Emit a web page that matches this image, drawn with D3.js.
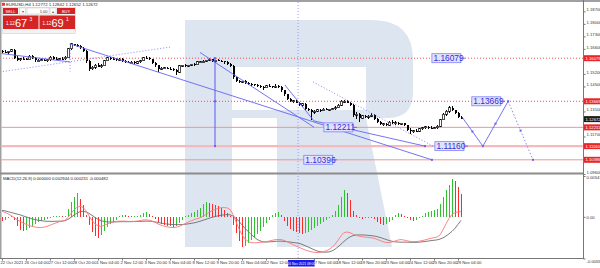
<!DOCTYPE html>
<html><head><meta charset="utf-8">
<script src="https://cdn.jsdelivr.net/npm/d3@7"></script>
<style>html,body{margin:0;padding:0;background:#fff;overflow:hidden}svg{display:block;font-family:"Liberation Sans",Arial,sans-serif}</style>
</head><body><svg id="c" width="600" height="268"></svg>
<script>
// ---------------- DATA ----------------
const symbolTitle = "EURUSD,H4  1.12772 1.12842 1.12652 1.12672";
const macdTitle = "MACD(12,26,9) 0.000000 0.002944 0.000231 -0.000482";
const opens = [1.1648,1.1645,1.1640,1.1646,1.1655,1.1610,1.1598,1.1606,1.1602,1.1600,1.1618,1.1610,1.1596,1.1597,1.1600,1.1594,1.1598,1.1612,1.1605,1.1602,1.1606,1.1604,1.1614,1.1660,1.1688,1.1682,1.1675,1.1664,1.1648,1.1590,1.1548,1.1558,1.1568,1.1560,1.1566,1.1595,1.1610,1.1606,1.1602,1.1598,1.1603,1.1590,1.1585,1.1582,1.1586,1.1581,1.1588,1.1595,1.1610,1.1607,1.1602,1.1580,1.1568,1.1545,1.1552,1.1555,1.1550,1.1545,1.1540,1.1530,1.1565,1.1568,1.1565,1.1569,1.1574,1.1571,1.1588,1.1589,1.1592,1.1596,1.1602,1.1594,1.1596,1.1594,1.1590,1.1584,1.1576,1.1565,1.1500,1.1480,1.1474,1.1478,1.1470,1.1465,1.1462,1.1460,1.1452,1.1446,1.1444,1.1455,1.1450,1.1446,1.1452,1.1448,1.1428,1.1405,1.1380,1.1368,1.1370,1.1360,1.1345,1.1352,1.1322,1.1318,1.1305,1.1312,1.1320,1.1315,1.1322,1.1319,1.1322,1.1325,1.1332,1.1346,1.1366,1.1368,1.1360,1.1348,1.1290,1.1295,1.1272,1.1285,1.1280,1.1284,1.1290,1.1268,1.1250,1.1238,1.1240,1.1232,1.1250,1.1245,1.1248,1.1240,1.1243,1.1232,1.1205,1.1198,1.1202,1.1200,1.1212,1.1220,1.1224,1.1220,1.1216,1.1218,1.1228,1.1265,1.1295,1.1310,1.1332,1.1318,1.1300,1.12772];
const highs = [1.1654,1.1652,1.1648,1.1660,1.1662,1.1618,1.1608,1.1612,1.1609,1.1624,1.1625,1.1614,1.1603,1.1605,1.1606,1.1603,1.1618,1.1620,1.1612,1.1610,1.1614,1.1618,1.1665,1.1692,1.1690,1.1688,1.1680,1.1670,1.1652,1.1596,1.1566,1.1575,1.1580,1.1574,1.1600,1.1616,1.1614,1.1612,1.1608,1.1610,1.1608,1.1598,1.1592,1.1590,1.1594,1.1590,1.1600,1.1616,1.1618,1.1612,1.1605,1.1585,1.1572,1.1558,1.1560,1.1560,1.1556,1.1552,1.1548,1.1570,1.1572,1.1575,1.1572,1.1578,1.1580,1.1592,1.1594,1.1596,1.1600,1.1607,1.1606,1.1600,1.1602,1.1598,1.1594,1.1590,1.1580,1.1570,1.1505,1.1486,1.1482,1.1484,1.1476,1.1470,1.1466,1.1464,1.1458,1.1452,1.1460,1.1464,1.1455,1.1465,1.1458,1.1452,1.1432,1.1410,1.1388,1.1375,1.1376,1.1365,1.1360,1.1356,1.1330,1.1322,1.1318,1.1325,1.1326,1.1328,1.1330,1.1326,1.1330,1.1338,1.1350,1.1374,1.1372,1.1372,1.1364,1.1352,1.1305,1.1300,1.1290,1.1292,1.1288,1.1300,1.1296,1.1274,1.1258,1.1245,1.1248,1.1256,1.1262,1.1256,1.1252,1.1246,1.1248,1.1236,1.1215,1.1208,1.1210,1.1216,1.1224,1.1230,1.1228,1.1226,1.1224,1.1232,1.1270,1.1300,1.1318,1.1340,1.1338,1.1320,1.1306,1.12842];
const lows = [1.1638,1.1636,1.1632,1.1640,1.1605,1.1590,1.1594,1.1598,1.1596,1.1598,1.1605,1.1588,1.1590,1.1592,1.1590,1.1586,1.1594,1.1598,1.1600,1.1596,1.1598,1.1600,1.1612,1.1655,1.1675,1.1670,1.1660,1.1640,1.1580,1.1535,1.1540,1.1550,1.1558,1.1555,1.1562,1.1590,1.1600,1.1598,1.1594,1.1592,1.1586,1.1580,1.1580,1.1576,1.1578,1.1574,1.1582,1.1590,1.1602,1.1598,1.1575,1.1560,1.1530,1.1540,1.1548,1.1546,1.1540,1.1535,1.1513,1.1525,1.1560,1.1560,1.1558,1.1562,1.1565,1.1568,1.1580,1.1584,1.1586,1.1590,1.1588,1.1582,1.1590,1.1586,1.1578,1.1570,1.1560,1.1490,1.1474,1.1468,1.1468,1.1466,1.1458,1.1450,1.1455,1.1448,1.1440,1.1432,1.1440,1.1447,1.1442,1.1440,1.1440,1.1420,1.1398,1.1372,1.1365,1.1360,1.1355,1.1340,1.1335,1.1318,1.1315,1.1264,1.1298,1.1306,1.1308,1.1310,1.1316,1.1312,1.1316,1.1320,1.1328,1.1340,1.1360,1.1355,1.1340,1.1280,1.1270,1.1250,1.1268,1.1275,1.1270,1.1278,1.1262,1.1245,1.1235,1.1230,1.1226,1.1228,1.1240,1.1235,1.1236,1.1232,1.1228,1.1200,1.1186,1.1190,1.1196,1.1195,1.1204,1.1214,1.1212,1.1210,1.1210,1.1214,1.1225,1.1260,1.1285,1.1302,1.1315,1.1296,1.1272,1.12652];
const closes = [1.1645,1.1640,1.1646,1.1655,1.1610,1.1598,1.1606,1.1602,1.1600,1.1618,1.1610,1.1596,1.1597,1.1600,1.1594,1.1598,1.1612,1.1605,1.1602,1.1606,1.1604,1.1614,1.1660,1.1688,1.1682,1.1675,1.1664,1.1648,1.1590,1.1548,1.1558,1.1568,1.1560,1.1566,1.1595,1.1610,1.1606,1.1602,1.1598,1.1603,1.1590,1.1585,1.1582,1.1586,1.1581,1.1588,1.1595,1.1610,1.1607,1.1602,1.1580,1.1568,1.1545,1.1552,1.1555,1.1550,1.1545,1.1540,1.1530,1.1565,1.1568,1.1565,1.1569,1.1574,1.1571,1.1588,1.1589,1.1592,1.1596,1.1602,1.1594,1.1596,1.1594,1.1590,1.1584,1.1576,1.1565,1.1500,1.1480,1.1474,1.1478,1.1470,1.1465,1.1462,1.1460,1.1452,1.1446,1.1444,1.1455,1.1450,1.1446,1.1452,1.1448,1.1428,1.1405,1.1380,1.1368,1.1370,1.1360,1.1345,1.1352,1.1322,1.1318,1.1305,1.1312,1.1320,1.1315,1.1322,1.1319,1.1322,1.1325,1.1332,1.1346,1.1366,1.1368,1.1360,1.1348,1.1290,1.1295,1.1272,1.1285,1.1280,1.1284,1.1290,1.1268,1.1250,1.1238,1.1240,1.1232,1.1250,1.1245,1.1248,1.1240,1.1243,1.1232,1.1205,1.1198,1.1202,1.1200,1.1212,1.1220,1.1224,1.1220,1.1216,1.1218,1.1228,1.1265,1.1295,1.1310,1.1332,1.1318,1.1300,1.1277,1.12672];
// MACD pane values, in units of 0.0001
const macdHist = [-5.3,-4.0,-1.3,1.3,-4.0,-11.9,-17.2,-18.6,-17.2,-14.6,-11.9,-9.3,-6.6,-5.3,-4.0,-2.7,-1.3,0.7,1.3,1.3,0.7,1.3,10.6,19.9,26.5,31.8,23.9,15.9,2.7,-10.6,-19.9,-25.2,-27.8,-23.9,-18.6,-13.3,-9.3,-6.6,-4.0,1.3,2.7,2.0,1.3,0.7,0.7,1.3,2.7,5.3,6.6,4.0,1.3,-2.7,-6.6,-9.3,-10.6,-11.9,-12.6,-13.3,-11.9,-8.0,-4.0,0.7,2.7,4.6,6.6,9.3,11.9,17.2,19.9,18.6,17.2,15.9,14.6,11.9,9.3,5.3,1.3,-10.6,-21.2,-31.8,-39.8,-38.4,-34.5,-30.5,-26.5,-22.5,-18.6,-13.3,-8.0,-4.0,2.7,5.3,6.6,2.7,-5.3,-11.9,-15.9,-18.6,-19.9,-21.2,-22.5,-21.9,-19.9,-17.2,-14.6,-11.9,-9.3,-6.6,-4.0,-1.3,2.7,8.0,15.9,26.5,35.8,31.8,22.5,8.0,2.7,-1.3,-2.7,-2.0,-1.3,-0.7,-2.7,-6.6,-9.3,-10.6,-9.3,-6.6,-4.0,2.7,5.3,4.0,1.3,-1.3,-4.0,-5.3,-4.0,-1.3,1.3,5.3,6.6,8.0,9.3,10.6,17.2,26.5,35.8,42.4,50.4,47.7,39.8,30.5];
const macdGray = [8.6,8.0,6.9,5.8,4.8,3.7,2.7,1.3,0.0,-1.3,-2.7,-3.6,-4.4,-5.0,-5.6,-5.8,-6.0,-6.0,-5.8,-5.7,-5.6,-5.0,-3.3,-0.7,2.4,5.0,6.9,7.4,6.6,4.6,2.0,-0.7,-3.3,-5.0,-6.1,-6.6,-6.8,-6.8,-6.6,-6.5,-6.4,-6.4,-6.4,-6.4,-6.2,-6.1,-6.0,-5.8,-5.7,-5.7,-6.0,-6.6,-7.4,-8.2,-9.0,-9.5,-9.9,-10.2,-10.3,-10.3,-10.2,-9.8,-9.3,-8.6,-8.0,-7.0,-5.8,-4.5,-3.2,-1.9,-0.7,0.4,1.3,2.1,2.7,3.0,2.7,1.1,-2.0,-6.0,-10.6,-15.2,-19.2,-23.2,-26.5,-29.8,-31.8,-33.1,-33.4,-33.1,-32.9,-32.5,-32.2,-32.2,-32.5,-32.9,-33.4,-33.9,-34.5,-35.1,-36.4,-38.2,-39.8,-41.7,-43.5,-45.1,-46.1,-46.6,-46.8,-46.4,-45.1,-42.8,-39.8,-36.2,-32.5,-29.2,-26.5,-24.9,-24.1,-23.9,-23.9,-24.1,-24.5,-24.9,-25.4,-26.2,-27.3,-28.6,-29.9,-31.3,-32.3,-33.1,-33.4,-33.5,-33.5,-33.5,-33.7,-33.8,-33.8,-33.5,-33.1,-32.6,-32.1,-31.5,-31.0,-30.5,-29.4,-27.8,-25.4,-22.5,-19.2,-15.2,-9.9,-4.6];
const macdPink = [7.4,6.0,4.0,2.0,-0.7,-3.6,-6.0,-8.0,-9.9,-11.4,-12.6,-13.5,-14.0,-14.2,-13.6,-12.6,-11.1,-9.5,-8.0,-6.6,-5.8,-4.6,-0.7,4.6,9.3,12.6,14.0,12.6,8.0,1.3,-4.6,-9.3,-11.9,-12.5,-11.3,-9.5,-8.0,-6.9,-6.1,-5.7,-5.6,-5.7,-6.0,-6.1,-6.0,-5.6,-5.0,-4.2,-4.0,-4.5,-5.6,-7.3,-9.3,-11.0,-12.3,-13.3,-13.9,-14.2,-13.8,-12.6,-10.9,-9.0,-7.2,-5.3,-3.7,-2.4,-1.3,0.7,3.3,6.0,8.2,9.9,11.3,12.1,12.3,11.9,9.9,3.3,-6.6,-15.9,-23.9,-29.2,-32.5,-34.1,-34.5,-34.2,-33.8,-33.4,-32.9,-32.1,-31.1,-30.3,-29.9,-30.1,-31.1,-32.9,-34.8,-36.8,-38.7,-40.4,-42.1,-43.7,-45.1,-46.1,-46.9,-47.3,-47.0,-46.4,-45.1,-43.1,-40.4,-36.4,-31.1,-25.2,-20.8,-20.1,-20.9,-22.9,-24.5,-25.6,-26.2,-26.8,-27.2,-27.6,-28.5,-29.8,-31.3,-32.9,-33.8,-34.1,-33.4,-32.1,-30.7,-30.1,-30.7,-31.7,-32.5,-32.9,-32.7,-32.3,-31.5,-30.5,-29.4,-28.5,-27.6,-26.8,-23.9,-17.2,-9.3,-2.0,3.3,5.7,6.6,7.0];
const macdRange = [-55.16, 54.12];
const xTickLabels = ["22 Oct 2021","26 Oct 04:00","27 Oct 12:00","28 Oct 20:00","1 Nov 04:00","2 Nov 12:00","3 Nov 20:00","5 Nov 04:00","8 Nov 12:00","9 Nov 20:00","11 Nov 04:00","12 Nov 12:00","17 Nov 04:00","18 Nov 12:00","19 Nov 20:00","23 Nov 04:00","24 Nov 12:00","25 Nov 20:00","29 Nov 04:00"];
const priceTicks = [1.187,1.180,1.173,1.166,1.159,1.152,1.145,1.138,1.131,1.124,1.117,1.110,1.103,1.096];
const levelPrices = [1.16079, 1.13669, 1.12211, 1.11160, 1.10396];
const levelStyles = ["dot","dot","solid","thick","solid"];
const currentPrice = 1.12672;
// analysis objects: [barIndex, price]
const solidLines = [
  [[-0.7,1.1635],[22.7,1.1587]],
  [[22.7,1.1688],[143.3,1.10396]],
  [[66,1.1640],[104,1.1222]],
  [[94.3,1.1458],[104,1.1257]],
  [[104,1.1257],[141,1.1116]]
];
const dottedLines = [
  [[-0.7,1.1531],[56,1.1670]],
  [[22.7,1.1688],[22.7,1.1533]],
  [[103.7,1.1475],[143.7,1.1116]]
];
const vLevelLine = [[71,1.16079],[71,1.13669],[71,1.11160]];
const forecastSolid = [[153.3,1.12799],[160.3,1.11160],[168.7,1.13669]];
const forecastDotted = [[168.7,1.13669],[177,1.10396]];
const priceBoxes = [[143.3,1.16079,"1.16079"],[156.6,1.13669,"1.13669"],[107.3,1.12211,"1.12211"],[144.3,1.11160,"1.11160"],[100.6,1.10396,"1.10396"]];
const crosshairBar = 98.7, crosshairText = "16 Nov 2021 08:00";

// ---------------- DRAW ----------------
const svg = d3.select("#c");
const months = ["Jan","Feb","Mar","Apr","May","Jun","Jul","Aug","Sep","Oct","Nov","Dec"];
const pad = n => (n<10?"0":"")+n;
const barDates = [];
{ let t = Date.UTC(2021,9,22,20);
  while (barDates.length < closes.length) {
    const d = new Date(t); const wd = d.getUTCDay();
    if (wd!==0 && wd!==6) barDates.push(d);
    t += 4*3600e3; } }
const fmt = d => `${d.getUTCDate()} ${months[d.getUTCMonth()]} ${pad(d.getUTCHours())}:00`;
const barIdx = lab => lab === xTickLabels[0] ? 0 : barDates.findIndex(d => fmt(d) === lab);

const AX = 583;
const x = d3.scaleLinear().domain([0, 153]).range([2, 461]);
const yP = d3.scaleLinear().domain([1.10396, 1.16079]).range([159.8, 58.2]);
const yM = d3.scaleLinear().domain(macdRange).range([258.5, 176]);

// watermark logo
const logo = "M185,20 H372 Q413,20 413,60 V92 Q413,118 388,118 H366 L392,247 H277 V118 H232 V247 H185 Z M232,67 V110 H366 V67 Z";
svg.append("path").attr("d", logo).attr("fill", "#dde5f0").attr("fill-rule","evenodd");

// frame
svg.append("rect").attr("x",0).attr("y",0).attr("width",600).attr("height",2).attr("fill","#a0a0a0");
svg.append("rect").attr("x",0).attr("y",0).attr("width",1.5).attr("height",259).attr("fill","#a0a0a0");
svg.append("rect").attr("x",0).attr("y",172.5).attr("width",AX).attr("height",2).attr("fill","#8c8c8c");
svg.append("line").attr("x1",AX+0.5).attr("x2",AX+0.5).attr("y1",0).attr("y2",259).attr("stroke","#777");
svg.append("line").attr("x1",0).attr("x2",AX).attr("y1",258.5).attr("y2",258.5).attr("stroke","#777");

svg.append("clipPath").attr("id","cp").append("rect").attr("x",1.5).attr("y",2).attr("width",AX-1.5).attr("height",170.5);
const gp = svg.append("g").attr("clip-path","url(#cp)");

// levels
levelPrices.forEach((p,k)=>{
  const st = levelStyles[k];
  gp.append("line").attr("x1",0).attr("x2",AX).attr("y1",yP(p)).attr("y2",yP(p))
    .attr("stroke", st==="dot" ? "#f05050" : (st==="thick" ? "#f7b9b9" : "#f19494"))
    .attr("stroke-width", st==="thick" ? 2.2 : 1)
    .attr("stroke-dasharray", st==="dot" ? "1,2" : null);
});

// crosshair
svg.append("line").attr("x1",x(crosshairBar)).attr("x2",x(crosshairBar)).attr("y1",2).attr("y2",258)
  .attr("stroke","#9c9cf0").attr("stroke-dasharray","1,2");

// candles
const cg = gp.append("g").attr("shape-rendering","crispEdges");
closes.forEach((c,i)=>{
  const o = opens[i], xi = x(i);
  cg.append("line").attr("x1",xi+0.5).attr("x2",xi+0.5).attr("y1",yP(highs[i])).attr("y2",yP(lows[i])).attr("stroke","#000");
  const top = yP(Math.max(o,c)), bot = yP(Math.min(o,c));
  const bull = c >= o;
  cg.append("rect").attr("x",xi-0.5).attr("y",top).attr("width",2).attr("height",Math.max(1,bot-top))
    .attr("fill", bull ? "#fff" : "#000").attr("stroke","#000").attr("stroke-width", bull?0.7:0);
});

// analysis lines
const line = d3.line().x(d=>x(d[0])).y(d=>yP(d[1]));
const blue = "#6464f5";
solidLines.forEach(l=>gp.append("path").attr("d",line(l)).attr("fill","none").attr("stroke",blue).attr("stroke-width",0.9));
dottedLines.forEach(l=>gp.append("path").attr("d",line(l)).attr("fill","none").attr("stroke","#7c7cf7").attr("stroke-dasharray","1,2").attr("stroke-width",0.9));
gp.append("path").attr("d",line(vLevelLine)).attr("fill","none").attr("stroke",blue).attr("stroke-width",1.1);
vLevelLine.forEach(p=>gp.append("rect").attr("x",x(p[0])-1).attr("y",yP(p[1])-1).attr("width",2).attr("height",2).attr("fill",blue));
gp.append("path").attr("d",line(forecastSolid)).attr("fill","none").attr("stroke",blue).attr("stroke-width",0.9);
gp.append("path").attr("d",line(forecastDotted)).attr("fill","none").attr("stroke","#7c7cf7").attr("stroke-dasharray","1.5,2").attr("stroke-width",0.9);
const nodes = [];
[forecastSolid, forecastDotted].forEach(seg=>{
  for (let k=0;k<seg.length-1;k++){ const a=seg[k], b=seg[k+1];
    nodes.push([(a[0]+b[0])/2,(a[1]+b[1])/2]); }
});
nodes.push(forecastSolid[1], forecastSolid[2], forecastDotted[1], solidLines[4][1], solidLines[1][1]);
nodes.forEach(p=>gp.append("rect").attr("x",x(p[0])-1).attr("y",yP(p[1])-1).attr("width",2).attr("height",2).attr("fill",blue));

// price boxes
priceBoxes.forEach(([bi,p,t])=>{
  const bx = x(bi), by = yP(p);
  const g = gp.append("g");
  g.append("rect").attr("x",bx).attr("y",by-4.5).attr("width",29).attr("height",9).attr("fill","#e2e2ff").attr("stroke","#8080ff").attr("stroke-width",0.8);
  g.append("text").attr("x",bx+1.5).attr("y",by+3).attr("font-size",8.4).attr("fill","#3030d0").text(t);
  g.append("line").attr("x1",bx+29).attr("x2",bx+33).attr("y1",by).attr("y2",by).attr("stroke",blue);
});

// price axis
const axP = d3.axisRight(yP).tickValues(priceTicks.filter(v=>{
    const yy=yP(v); return yy>4 && yy<175 && !levelPrices.concat([currentPrice]).some(l=>Math.abs(yP(l)-yy)<4.5);}))
  .tickFormat(d3.format(".5f")).tickSize(2).tickPadding(1);
const gA = svg.append("g").attr("transform",`translate(${AX+0.5},0)`).call(axP);
gA.select(".domain").remove();
gA.selectAll("text").attr("font-size",4.2).attr("fill","#333").attr("dy","-0.15em");
gA.selectAll("line").attr("stroke","#777");
levelPrices.concat([currentPrice]).forEach((p,k)=>{
  const yy = yP(p), cur = k===levelPrices.length;
  svg.append("rect").attr("x",AX+1).attr("y",yy-3).attr("width",17).attr("height",6).attr("fill",cur?"#1c1c1c":"#e8262a");
  svg.append("text").attr("x",AX+2.5).attr("y",yy+1.6).attr("font-size",4.2).attr("fill","#fff").text(p.toFixed(5));
});

// MACD pane
const gm = svg.append("g");
const hg = gm.append("g").attr("shape-rendering","crispEdges");
macdHist.forEach((v,i)=>{
  const up = i===0 ? v>=0 : v>=macdHist[i-1];
  hg.append("rect").attr("x",x(i)-0.5).attr("y",Math.min(yM(0),yM(v))).attr("width",1.8)
    .attr("height",Math.max(0.8,Math.abs(yM(v)-yM(0)))).attr("fill", up ? "#30c030" : "#ff2a2a");
});
const ml = d3.line().x((d,i)=>x(i)).y(d=>yM(d));
gm.append("path").attr("d",ml(macdGray)).attr("fill","none").attr("stroke","#6e6e6e").attr("stroke-width",0.9);
gm.append("path").attr("d",ml(macdPink)).attr("fill","none").attr("stroke","#ff7878").attr("stroke-width",0.9);
const axM = d3.axisRight(yM).tickValues([macdRange[1],0,macdRange[0]])
  .tickFormat(v=>v===0?"0.00":(v/1e4).toFixed(6)).tickSize(2).tickPadding(1);
const gAM = svg.append("g").attr("transform",`translate(${AX+0.5},0)`).call(axM);
gAM.select(".domain").remove();
gAM.selectAll("text").attr("font-size",4.2).attr("fill","#333");
gAM.selectAll(".tick").filter(d=>d===macdRange[1]).select("text").attr("dy","0.55em");
gAM.selectAll(".tick").filter(d=>d===macdRange[0]).select("text").attr("dy","0.9em");
gAM.selectAll("line").attr("stroke","#777");

// time axis
const axX = d3.axisBottom(x).tickValues(xTickLabels.map(barIdx)).tickFormat((d,k)=>xTickLabels[k]).tickSize(2).tickPadding(1);
const gX = svg.append("g").attr("transform","translate(0,258.5)").call(axX);
gX.select(".domain").remove();
gX.selectAll("text").attr("font-size",4.2).attr("fill","#333").attr("text-anchor","start").attr("dx",-2);
gX.selectAll("line").attr("stroke","#777");
const cx = x(crosshairBar);
svg.append("rect").attr("x",cx-10).attr("y",260).attr("width",26.5).attr("height",6.5).attr("fill","#1a1aee");
svg.append("text").attr("x",cx+3.2).attr("y",264.7).attr("text-anchor","middle").attr("font-size",3.3).attr("fill","#fff").text(crosshairText);

// titles
svg.append("text").attr("x",6).attr("y",6.3).attr("font-size",4.3).attr("fill","#222").text(symbolTitle);
svg.append("rect").attr("x",2).attr("y",2.8).attr("width",3).attr("height",3).attr("fill","#d43");
svg.append("text").attr("x",3).attr("y",179.5).attr("font-size",4.2).attr("fill","#222").text(macdTitle);

// trade panel
const tp = svg.append("g");
const red = "#d42424";
tp.append("rect").attr("x",2.5).attr("y",7.5).attr("width",73).attr("height",26).attr("fill","#f3f3f3").attr("stroke","#c8c8c8").attr("stroke-width",0.5);
tp.append("rect").attr("x",3).attr("y",8).attr("width",15).attr("height",6).attr("fill",red);
tp.append("text").attr("x",10.5).attr("y",12.5).attr("text-anchor","middle").attr("font-size",4).attr("fill","#fff").text("SELL");
tp.append("rect").attr("x",19.5).attr("y",8).attr("width",6).attr("height",6).attr("fill","#fff").attr("stroke","#bbb").attr("stroke-width",0.4);
tp.append("text").attr("x",22.5).attr("y",12.5).attr("text-anchor","middle").attr("font-size",4).attr("fill","#555").text("▾");
tp.append("rect").attr("x",27).attr("y",8).attr("width",22).attr("height",6).attr("fill","#fff").attr("stroke","#bbb").attr("stroke-width",0.4);
tp.append("text").attr("x",47.5).attr("y",12.5).attr("text-anchor","end").attr("font-size",4).attr("fill","#333").text("1.00");
tp.append("rect").attr("x",50).attr("y",8).attr("width",6).attr("height",6).attr("fill","#fff").attr("stroke","#bbb").attr("stroke-width",0.4);
tp.append("text").attr("x",53).attr("y",12.5).attr("text-anchor","middle").attr("font-size",4).attr("fill","#555").text("▴");
tp.append("rect").attr("x",57).attr("y",8).attr("width",18).attr("height",6).attr("fill",red);
tp.append("text").attr("x",66).attr("y",12.5).attr("text-anchor","middle").attr("font-size",4).attr("fill","#fff").text("BUY");
[[3,"67","3"],[39.5,"69","1"]].forEach(([bx,big,sup])=>{
  tp.append("rect").attr("x",bx).attr("y",15.5).attr("width",35.5).attr("height",13.5).attr("fill",red);
  tp.append("text").attr("x",bx+3).attr("y",25).attr("font-size",4.5).attr("fill","#fff").text("1.12");
  tp.append("text").attr("x",bx+12).attr("y",26.5).attr("font-size",11).attr("fill","#fff").text(big);
  tp.append("text").attr("x",bx+26.5).attr("y",21).attr("font-size",5).attr("fill","#fff").text(sup);
});
</script></body></html>
